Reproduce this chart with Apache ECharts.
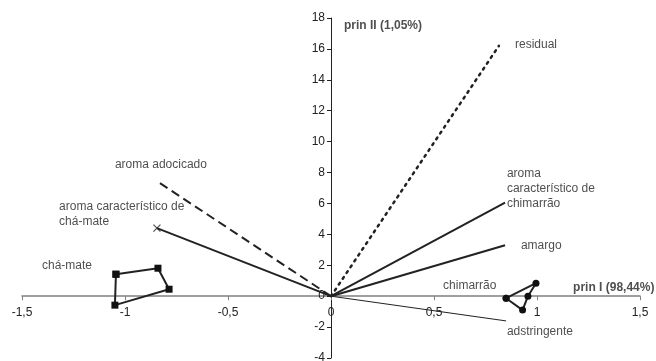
<!DOCTYPE html>
<html><head><meta charset="utf-8">
<script src="https://cdn.jsdelivr.net/npm/echarts@6/dist/echarts.min.js"></script>
<style>html,body{margin:0;padding:0;background:#fff}#c{width:656px;height:361px}</style>
</head><body><div id="c"></div>
<script>
// Vectors (loadings) from origin
const vectorNames = ['residual', 'aroma adocicado', 'aroma característico de chá-mate', 'aroma característico de chimarrão', 'amargo', 'adstringente'];
const vectorX = [0.815, -0.84, -0.845, 0.845, 0.845, 0.85];
const vectorY = [16.2, 7.4, 4.4, 6.06, 3.3, -1.6];
// Sample groups
const chaMateX = [-1.044, -0.84, -0.786, -1.049];
const chaMateY = [1.42, 1.81, 0.45, -0.58];
const chimarraoX = [0.85, 0.995, 0.956, 0.93];
const chimarraoY = [-0.13, 0.84, 0, -0.9];
// Text annotations (anchor in data coords)
const labelTexts = ['residual', 'aroma adocicado', 'aroma característico de\nchá-mate', 'chá-mate', 'aroma\ncaracterístico de\nchimarrão', 'amargo', 'chimarrão', 'adstringente'];
const labelX = [0.893, -1.049, -1.32, -1.403, 0.854, 0.922, 0.544, 0.854];
const labelY = [16.26, 8.5, 5.3, 2.0, 6.97, 3.29, 0.71, -2.32];
const axisTitles = ['prin I (98,44%)', 'prin II (1,05%)'];
const axisTitleX = [1.175, 0.063];
const axisTitleY = [0.52, 17.5];

const FONT = 'Liberation Sans, Arial, sans-serif';
const ink = '#222';
const vecStyles = [
  {type: [2, 5], width: 2.5, cap: 'round'},
  {type: [9, 5], width: 2},
  {type: 'solid', width: 2},
  {type: 'solid', width: 2},
  {type: 'solid', width: 2},
  {type: 'solid', width: 1}
];
const series = [];
vectorNames.forEach((n, i) => {
  series.push({
    type: 'line', name: n,
    data: [[0, 0], [vectorX[i], vectorY[i]]],
    symbol: 'none',
    lineStyle: {color: ink, width: vecStyles[i].width, type: vecStyles[i].type, cap: vecStyles[i].cap || 'butt'},
    silent: true, animation: false, z: 2
  });
});
// x marker for aroma característico de chá-mate
series.push({
  type: 'scatter', data: [[vectorX[2], vectorY[2]]],
  symbol: 'path://M0,0L10,10M10,0L0,10', symbolSize: 7,
  itemStyle: {color: 'none', borderColor: ink, borderWidth: 1.2},
  animation: false, z: 3
});
const close = (xs, ys) => xs.map((x, i) => [x, ys[i]]).concat([[xs[0], ys[0]]]);
series.push({
  type: 'line', data: close(chaMateX, chaMateY),
  symbol: 'rect', symbolSize: 7, showAllSymbol: true,
  lineStyle: {color: ink, width: 2}, itemStyle: {color: '#111'},
  animation: false, z: 4
});
series.push({
  type: 'line', data: close(chimarraoX, chimarraoY),
  symbol: 'circle', symbolSize: 7, showAllSymbol: true,
  lineStyle: {color: ink, width: 2}, itemStyle: {color: '#111'},
  animation: false, z: 4
});
series.push({
  type: 'scatter', symbolSize: 0, animation: false, silent: true,
  data: labelTexts.map((t, i) => ({value: [labelX[i], labelY[i]], name: t})),
  label: {show: true, position: 'right', distance: 0, formatter: p => p.name,
    color: '#222', fontSize: 12, fontFamily: FONT, lineHeight: 15, align: 'left'}
});
series.push({
  type: 'scatter', symbolSize: 0, animation: false, silent: true,
  data: axisTitles.map((t, i) => ({value: [axisTitleX[i], axisTitleY[i]], name: t})),
  label: {show: true, position: 'right', distance: 0, formatter: p => p.name,
    color: '#222', fontSize: 12, fontWeight: 'bold', fontFamily: FONT, align: 'left'}
});
const fmt = v => String(v).replace('.', ',');
const W = 656, H = 361;
const G = {left: 22, right: 16, top: 18, bottom: 3};
const xMin = -1.5, xMax = 1.5, yMin = -4, yMax = 18;
// shift axes so they cross at the origin
const xOffset = -((H - G.top - G.bottom) * (0 - yMin) / (yMax - yMin));
const yOffset = -((W - G.left - G.right) * (0 - xMin) / (xMax - xMin));
const chart = echarts.init(document.getElementById('c'), null, {renderer: 'canvas'});
chart.setOption({
  backgroundColor: '#fff',
  animation: false,
  grid: Object.assign({containLabel: false, outerBoundsMode: 'none'}, G),
  xAxis: {
    type: 'value', min: xMin, max: xMax, interval: 0.5, offset: xOffset,
    axisLine: {onZero: false, lineStyle: {color: '#808080', width: 1.5}},
    axisTick: {show: true, length: 4, lineStyle: {color: '#808080'}},
    axisLabel: {formatter: fmt, color: '#222', fontSize: 12, fontFamily: FONT, margin: 11},
    splitLine: {show: false}
  },
  yAxis: {
    type: 'value', min: yMin, max: yMax, interval: 2, offset: yOffset,
    axisLine: {show: true, onZero: false, lineStyle: {color: '#222', width: 1}},
    axisTick: {show: true, length: 4, lineStyle: {color: '#222'}},
    axisLabel: {formatter: fmt, color: '#222', fontSize: 12, fontFamily: FONT, margin: 6},
    splitLine: {show: false}
  },
  series: series
});
</script></body></html>
